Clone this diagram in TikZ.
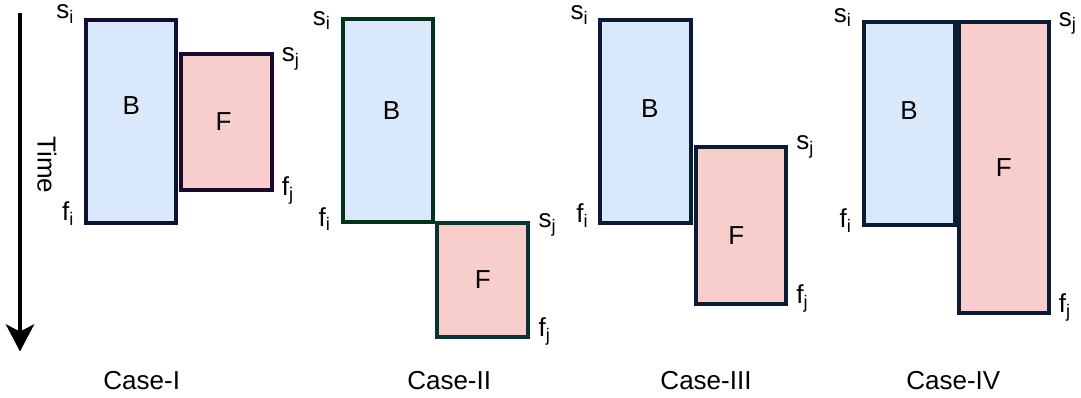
\documentclass[tikz,border=0pt]{standalone}
\usepackage{fontspec}
\setmainfont{Liberation Sans}
\usepackage{tikz}
\usetikzlibrary{arrows.meta}
\definecolor{bluefill}{HTML}{DAE8FC}
\definecolor{redfill}{HTML}{F8CECC}
\definecolor{navyA}{HTML}{0F0F33}
\definecolor{plumA}{HTML}{1A0A2E}
\definecolor{greenB}{HTML}{00331A}
\definecolor{tealB}{HTML}{0A3333}
\definecolor{navyC}{HTML}{0B1B33}
\tikzset{
  blk/.style={draw, line width=4pt, inner sep=0pt, outer sep=0pt},
  bblk/.style={blk, fill=bluefill},
  fblk/.style={blk, fill=redfill},
  wh/.style 2 args={minimum width=#1, minimum height=#2},
  txt/.style={inner sep=0pt, font=\fontsize{26}{30}\selectfont},
  lbl/.style={txt, anchor=base east, xshift=-12pt},
  lblr/.style={txt, anchor=base west, xshift=10pt},
}

\begin{document}
\begin{tikzpicture}[x=1pt, y=-1pt]
      \useasboundingbox (0,0) rectangle (1081,397);
      % time axis
      \coordinate (t0) at (20,12.7);
      \coordinate (t1) at (20,351.5);
      \draw[-{Stealth[length=27pt,width=28pt,inset=7pt]}, line width=4.5pt] (t0) -- (t1);
      \node[txt, rotate=-90] (time) at (47,165) {Time};

      % Case-I
      \node[bblk, draw=navyA, wh={90.3pt}{203pt}] (b1) at (131.2,121) {};
      \node[fblk, draw=plumA, wh={90.4pt}{135.7pt}] (f1) at (226.5,121.7) {};
      \node[txt] (bt1) at ([yshift=15pt]b1.center) {B};
      \node[txt] (ft1) at ([xshift=-3pt]f1.center) {F};
      \node[lbl, yshift=1pt] (si1) at (b1.north west) {s\textsubscript{i}};
      \node[lbl, yshift=2pt] (fi1) at (b1.south west) {f\textsubscript{i}};
      \node[lblr, yshift=-8pt] (sj1) at (f1.north east) {s\textsubscript{j}};
      \node[lblr, yshift=-6pt] (fj1) at (f1.south east) {f\textsubscript{j}};
      \node[txt, anchor=base] (c1) at (141.7,389) {Case-I};

      % Case-II
      \node[bblk, draw=greenB, wh={90.2pt}{203.3pt}] (b2) at (387.6,120.7) {};
      \node[fblk, draw=tealB, wh={91.3pt}{113.7pt}] (f2) at (482.7,279.8) {};
      \node[txt] (bt2) at ([xshift=4pt,yshift=10pt]b2.center) {B};
      \node[txt] (ft2) at (f2.center) {F};
      \node[lbl, yshift=-6pt] (si2) at (b2.north west) {s\textsubscript{i}};
      \node[lbl, yshift=-4pt] (fi2) at (b2.south west) {f\textsubscript{i}};
      \node[lblr, yshift=-5pt] (sj2) at (f2.north east) {s\textsubscript{j}};
      \node[lblr] (fj2) at (f2.south east) {f\textsubscript{j}};
      \node[txt, anchor=base] (c2) at (449.2,389) {Case-II};

      % Case-III
      \node[bblk, draw=navyC, wh={90.7pt}{203.3pt}] (b3) at (645.8,121.2) {};
      \node[fblk, draw=navyC, wh={90pt}{157.3pt}] (f3) at (741.2,225.2) {};
      \node[txt] (bt3) at ([xshift=4pt,yshift=13pt]b3.center) {B};
      \node[txt] (ft3) at ([xshift=-5pt,yshift=-10pt]f3.center) {F};
      \node[lbl] (si3) at (b3.north west) {s\textsubscript{i}};
      \node[lbl] (fi3) at (b3.south west) {f\textsubscript{i}};
      \node[lblr, yshift=-3pt] (sj3) at (f3.north east) {s\textsubscript{j}};
      \node[lblr] (fj3) at (f3.south east) {f\textsubscript{j}};
      \node[txt, anchor=base] (c3) at (706,389) {Case-III};

      % Case-IV
      \node[bblk, draw=navyC, wh={90.8pt}{202.4pt}] (b4) at (909.1,123.5) {};
      \node[fblk, draw=navyC, wh={90pt}{290.5pt}] (f4) at (1003.7,167.6) {};
      \node[txt] (bt4) at ([yshift=13pt]b4.center) {B};
      \node[txt] (ft4) at (f4.center) {F};
      \node[lbl] (si4) at (b4.north west) {s\textsubscript{i}};
      \node[lbl, yshift=-3pt] (fi4) at (b4.south west) {f\textsubscript{i}};
      \node[lblr, yshift=-4pt] (sj4) at (f4.north east) {s\textsubscript{j}};
      \node[lblr] (fj4) at (f4.south east) {f\textsubscript{j}};
      \node[txt, anchor=base] (c4) at (953.3,389) {Case-IV};
\end{tikzpicture}
\end{document}
